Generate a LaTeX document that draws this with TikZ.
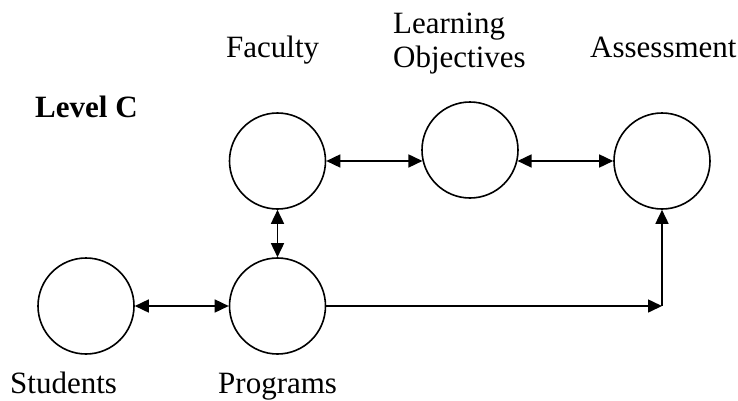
\documentclass[tikz,border=0pt]{standalone}
\usepackage{fontspec}
\setmainfont{Liberation Serif}
\usetikzlibrary{arrows.meta}
\begin{document}
\begin{tikzpicture}[x=1pt,y=-1pt,
  ring/.style={circle,draw,line width=1.6pt,minimum size=96pt,inner sep=0pt},
  lbl/.style={inner sep=0pt,font=\fontsize{31}{33.5}\selectfont},
  conn/.style={line width=1.6pt},
  tip/.style={-{Triangle[length=14pt,width=13pt]}},
  tips/.style={{Triangle[length=14pt,width=13pt]}-{Triangle[length=14pt,width=13pt]}}]
\useasboundingbox (0,0) rectangle (738,400);
\node[ring] (fac) at (277.5,161) {};
\node[ring] (lo) at (470,150) {};
\node[ring] (as) at (662,161) {};
\node[ring] (stu) at (86,306) {};
\node[ring] (prog) at (277.5,306) {};
\coordinate (c) at (662,306);
\node[lbl,anchor=base west,font=\fontsize{31}{33.5}\selectfont\bfseries] (lev) at (35,117) {Level C};
\node[lbl,anchor=base west] (tfac) at (226,57.5) {Faculty};
\node[lbl,anchor=base west,align=left] (tlo) at (393,67) {Learning\\Objectives};
\node[lbl,anchor=base west] (tas) at (590,57.5) {Assessment};
\node[lbl,anchor=base west] (tstu) at (10,393) {Students};
\node[lbl,anchor=base west] (tprog) at (218,393) {Programs};
\draw[conn,tips] (fac.east) -- (lo.193);
\draw[conn,tips] (lo.-13) -- (as.west);
\draw[conn,tips] (fac.south) -- (prog.north);
\draw[conn,tips] (stu.east) -- (prog.west);
\draw[conn,tip] (prog.east) -- (c);
\draw[conn,tip] (c) -- (as.south);
\end{tikzpicture}
\end{document}
